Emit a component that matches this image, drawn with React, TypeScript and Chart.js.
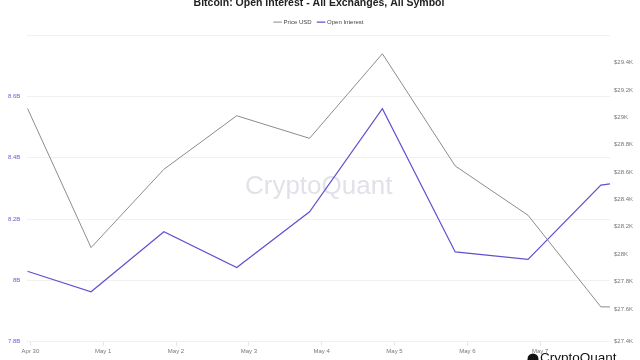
import React, { useEffect, useRef } from "react";
import { Chart, registerables } from "chart.js";

Chart.register(...registerables);

// hours since Apr 30 00:00
const hours = [-1, 20, 44, 68, 92, 116, 140, 164, 188, 191];
const priceUSD = [29067, 28048, 28620, 29011, 28846, 29464, 28644, 28284, 27615, 27615];
const openInterest = [8.03e9, 7.963e9, 8.159e9, 8.042e9, 8.224e9, 8.56e9, 8.093e9, 8.069e9, 8.311e9, 8.315e9];
const dayTickHours = [0, 24, 48, 72, 96, 120, 144, 168];
const dayTickLabels = ["Apr 30", "May 1", "May 2", "May 3", "May 4", "May 5", "May 6", "May 7"];
const oiTicks = [7.8e9, 8.0e9, 8.2e9, 8.4e9, 8.6e9, 8.8e9];
const priceTicks = [27360, 27600, 27800, 28000, 28200, 28400, 28600, 28800, 29000, 29200, 29400];

const FONT = "'Liberation Sans', Arial, Helvetica, sans-serif";

const brandPlugin = {
  id: "brand",
  beforeDatasetsDraw(chart: any) {
    const { ctx, chartArea } = chart;
    ctx.save();
    ctx.font = `26px ${FONT}`;
    ctx.fillStyle = "rgba(200,200,215,0.55)";
    ctx.textAlign = "center";
    ctx.textBaseline = "middle";
    ctx.fillText("CryptoQuant", (chartArea.left + chartArea.right) / 2, (chartArea.top + chartArea.bottom) / 2 - 2);
    ctx.restore();
  },
  afterDraw(chart: any) {
    const { ctx, width, height } = chart;
    ctx.save();
    ctx.fillStyle = "#111";
    ctx.beginPath();
    ctx.arc(width - 107, height - 1, 5.5, 0, Math.PI * 2);
    ctx.fill();
    ctx.font = `13.5px ${FONT}`;
    ctx.textAlign = "left";
    ctx.textBaseline = "top";
    ctx.fillText("CryptoQuant", width - 100, height - 8);
    ctx.restore();
  },
};

export default function App() {
  const ref = useRef<HTMLCanvasElement | null>(null);
  useEffect(() => {
    if (!ref.current) return;
    const chart = new Chart(ref.current, {
      type: "line",
      data: {
        datasets: [
          {
            label: "Price USD",
            data: hours.map((h, i) => ({ x: h, y: priceUSD[i] })),
            borderColor: "#8c8c8c",
            backgroundColor: "#8c8c8c",
            borderWidth: 1,
            pointRadius: 0,
            tension: 0,
            yAxisID: "yPrice",
          },
          {
            label: "Open Interest",
            data: hours.map((h, i) => ({ x: h, y: openInterest[i] })),
            borderColor: "#5f52cf",
            backgroundColor: "#5f52cf",
            borderWidth: 1.2,
            pointRadius: 0,
            tension: 0,
            yAxisID: "yOI",
          },
        ],
      },
      options: {
        animation: false,
        responsive: true,
        maintainAspectRatio: false,
        layout: { padding: { left: 1, right: 3, top: 0, bottom: 3 } },
        plugins: {
          title: {
            display: true,
            text: "Bitcoin: Open Interest - All Exchanges, All Symbol",
            color: "#222",
            font: { family: FONT, size: 10.5, weight: "bold" },
            padding: { top: 0, bottom: 3 },
          },
          legend: {
            display: true,
            labels: {
              usePointStyle: true,
              pointStyle: "line",
              boxWidth: 6,
              color: "#444",
              font: { family: FONT, size: 6 },
              padding: 6.5,
            },
          },
          tooltip: { enabled: false },
        },
        scales: {
          x: {
            type: "linear",
            min: -1,
            max: 191,
            afterBuildTicks: (scale: any) => {
              scale.ticks = dayTickHours.map((v) => ({ value: v }));
            },
            ticks: {
              autoSkip: false,
              maxRotation: 0,
              color: "#777",
              font: { family: FONT, size: 6 },
              padding: 2,
              callback: (_v: any, i: number) => dayTickLabels[i],
            },
            grid: { drawOnChartArea: false, tickLength: 4, color: "#e6e6e6" },
            border: { display: false },
          },
          yOI: {
            type: "linear",
            position: "left",
            min: 7.8e9,
            max: 8.8e9,
            afterBuildTicks: (scale: any) => {
              scale.ticks = oiTicks.map((v) => ({ value: v }));
            },
            ticks: {
              color: "#6a5fd6",
              font: { family: FONT, size: 6 },
              padding: 7,
              callback: (v: any) => {
                const n = Number(v);
                if (n >= 8.8e9) return "";
                return (n / 1e9).toFixed(1).replace(/\.0$/, "") + "B";
              },
            },
            grid: { color: "#f1f1f1", drawTicks: false },
            border: { display: false },
          },
          yPrice: {
            type: "linear",
            position: "right",
            min: 27360,
            max: 29600,
            afterBuildTicks: (scale: any) => {
              scale.ticks = priceTicks.map((v) => ({ value: v }));
            },
            ticks: {
              color: "#777",
              font: { family: FONT, size: 6 },
              padding: 4,
              callback: (v: any) => "$" + (Number(v) / 1000).toFixed(1).replace(/\.0$/, "") + "K",
            },
            grid: { drawOnChartArea: false, drawTicks: false },
            border: { display: false },
          },
        },
      },
      plugins: [brandPlugin],
    });
    return () => chart.destroy();
  }, []);
  return (
    <div style={{ position: "absolute", left: 0, top: -3, width: 640, height: 363, background: "#fff" }}>
      <canvas ref={ref} />
    </div>
  );
}
